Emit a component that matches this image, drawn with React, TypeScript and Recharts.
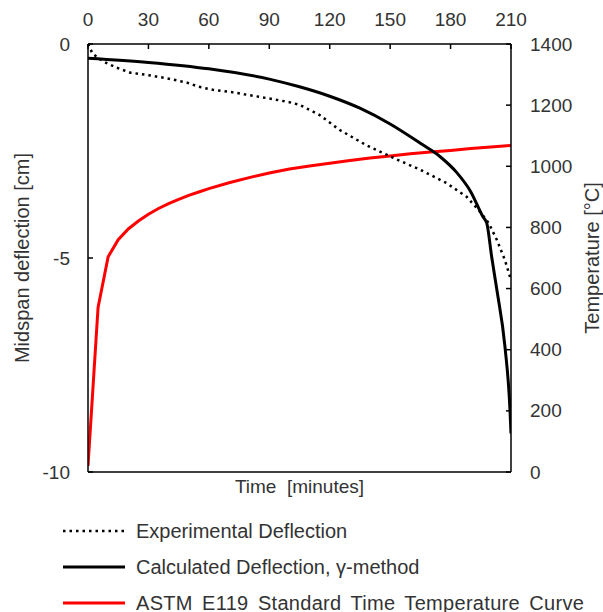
import { LineChart, Line, XAxis, YAxis } from "recharts";

// Experimental deflection (dotted)
const expTime = [0, 2.3, 7.6, 14, 21, 29, 39, 49, 55, 62, 72, 82, 92, 100, 105, 115, 125, 138, 152, 165, 178, 188, 195, 199, 203, 207, 209.5, 210];
const expDefl = [0, -0.23, -0.41, -0.55, -0.67, -0.72, -0.8, -0.9, -1.0, -1.07, -1.13, -1.21, -1.29, -1.36, -1.42, -1.66, -2.01, -2.36, -2.67, -2.94, -3.25, -3.57, -3.94, -4.19, -4.58, -5.05, -5.44, -5.52];

// Calculated deflection, gamma-method (solid)
const calcTime = [0, 30, 60, 90, 105, 120, 135, 150, 165, 175, 183, 190, 196, 198, 200.4, 203, 207, 209.5, 210];
const calcDefl = [-0.33, -0.43, -0.58, -0.82, -1.0, -1.22, -1.5, -1.87, -2.32, -2.64, -3.0, -3.45, -4.03, -4.19, -4.97, -5.75, -7.07, -8.55, -9.1];

// ASTM E119 standard time temperature curve
const astmTime = [0, 5, 10, 15, 20, 25, 30, 35, 40, 45, 50, 55, 60, 70, 80, 90, 100, 110, 120, 130, 140, 150, 160, 170, 180, 190, 200, 210];
const astmTemp = [20, 538, 704, 760, 795, 821, 843, 862, 878, 892, 905, 916, 927, 946, 963, 978, 991, 1001, 1010, 1019, 1027, 1034, 1041, 1047, 1052, 1058, 1063, 1068];

const timeTicks = [0, 30, 60, 90, 120, 150, 180, 210];
const deflTicks = [-10, -5, 0];
const tempTicks = [0, 200, 400, 600, 800, 1000, 1200, 1400];

const expData = expTime.map((t, i) => ({ t, v: expDefl[i] }));
const calcData = calcTime.map((t, i) => ({ t, v: calcDefl[i] }));
const astmData = astmTime.map((t, i) => ({ t, v: astmTemp[i] }));

const series = [
  { name: "Experimental Deflection", color: "#000", width: 2.5, dash: "2.5 4", spread: 0 },
  { name: "Calculated Deflection, γ-method", color: "#000", width: 3, dash: undefined, spread: 0 },
  { name: "ASTM E119 Standard Time Temperature Curve", color: "#ff0000", width: 3, dash: undefined, spread: 1 },
];

const FONT = "'Liberation Sans', Arial, sans-serif";
const TEXT = "#333";

const makeTick = (side: "top" | "left" | "right") => (props: any) => {
  const { x, y, payload } = props;
  let l = [x, y, x, y];
  let tx = x;
  let ty = y;
  let anchor: any = "middle";
  if (side === "top") {
    l = [x, y, x, y + 5];
    ty = y - 18;
  } else if (side === "left") {
    l = [x, y, x + 5, y];
    tx = x - 18;
    ty = y + 6.5;
    anchor = "end";
  } else {
    l = [x, y, x - 5, y];
    tx = x + 19;
    ty = y + 6.5;
    anchor = "start";
  }
  return (
    <g>
      <line x1={l[0]} y1={l[1]} x2={l[2]} y2={l[3]} stroke="#000" strokeWidth={1.5} />
      <text x={tx} y={ty} textAnchor={anchor} fill={TEXT} fontSize={19} fontFamily={FONT}>
        {payload.value}
      </text>
    </g>
  );
};

export default function App() {
  return (
    <div style={{ position: "absolute", left: 0, top: 0, width: 603, height: 612, background: "#fff", fontFamily: FONT }}>
      <LineChart width={603} height={612} margin={{ top: 0, right: 0, bottom: 0, left: 0 }}>
        <XAxis
          xAxisId="top"
          orientation="top"
          type="number"
          dataKey="t"
          domain={[0, 210]}
          ticks={timeTicks}
          height={44}
          tickSize={0}
          tickMargin={0}
          tickLine={false}
          tick={makeTick("top")}
          axisLine={{ stroke: "#000", strokeWidth: 1.5 }}
          allowDataOverflow
        />
        <XAxis
          xAxisId="bottom"
          orientation="bottom"
          type="number"
          dataKey="t"
          domain={[0, 210]}
          height={140}
          tick={false}
          tickLine={false}
          axisLine={{ stroke: "#000", strokeWidth: 1.5 }}
          label={{ value: "Time\u00A0 [minutes]", position: "insideTop", offset: 8, fill: TEXT, fontSize: 19, fontFamily: FONT }}
        />
        <YAxis
          yAxisId="defl"
          orientation="left"
          type="number"
          domain={[-10, 0]}
          ticks={deflTicks}
          width={88}
          tickSize={0}
          tickMargin={0}
          tickLine={false}
          tick={makeTick("left")}
          axisLine={{ stroke: "#000", strokeWidth: 1.5 }}
          allowDataOverflow
          label={{ value: "Midspan deflection [cm]", angle: -90, position: "insideLeft", offset: 22, fill: TEXT, fontSize: 20, fontFamily: FONT, style: { textAnchor: "middle" } }}
        />
        <YAxis
          yAxisId="temp"
          orientation="right"
          type="number"
          domain={[0, 1400]}
          ticks={tempTicks}
          width={92}
          tickSize={0}
          tickMargin={0}
          tickLine={false}
          tick={makeTick("right")}
          axisLine={{ stroke: "#000", strokeWidth: 1.5 }}
          allowDataOverflow
          label={{ value: "Temperature [°C]", angle: -90, position: "insideRight", offset: 11, fill: TEXT, fontSize: 20, fontFamily: FONT, style: { textAnchor: "middle" } }}
        />
        <Line
          xAxisId="top"
          yAxisId="temp"
          data={astmData}
          dataKey="v"
          type="linear"
          stroke={series[2].color}
          strokeWidth={series[2].width}
          dot={false}
          isAnimationActive={false}
        />
        <Line
          xAxisId="top"
          yAxisId="defl"
          data={expData}
          dataKey="v"
          type="linear"
          stroke={series[0].color}
          strokeWidth={series[0].width}
          strokeDasharray={series[0].dash}
          dot={false}
          isAnimationActive={false}
        />
        <Line
          xAxisId="top"
          yAxisId="defl"
          data={calcData}
          dataKey="v"
          type="monotone"
          stroke={series[1].color}
          strokeWidth={series[1].width}
          dot={false}
          isAnimationActive={false}
        />
      </LineChart>

      <div style={{ position: "absolute", left: 63, top: 513 }}>
        {series.map((s) => (
          <div key={s.name} style={{ display: "flex", alignItems: "center", height: 36 }}>
            <svg width={62} height={10} style={{ marginRight: 11 }}>
              <line x1={0} y1={5} x2={62} y2={5} stroke={s.color} strokeWidth={s.width} strokeDasharray={s.dash} />
            </svg>
            <span
              style={{
                fontSize: 20,
                color: TEXT,
                whiteSpace: "pre",
                wordSpacing: s.spread * 3.5,
                letterSpacing: s.spread * 0.3,
              }}
            >
              {s.name}
            </span>
          </div>
        ))}
      </div>
    </div>
  );
}
